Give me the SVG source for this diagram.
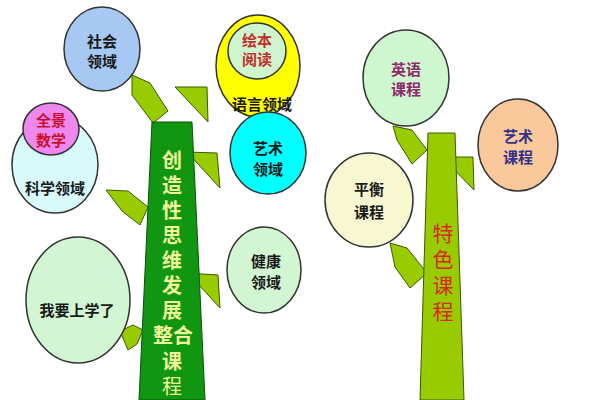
<svg xmlns="http://www.w3.org/2000/svg" width="600" height="400" viewBox="0 0 600 400">
<style>
.bub{stroke:#333;stroke-width:1.5}
.leaf{fill:#99cc00;stroke:#3a5a00;stroke-width:1}
.lbl{font-family:"Noto Sans CJK SC",sans-serif;font-size:15px;font-weight:bold;text-anchor:middle;fill:#1a1a1a}
.trk{font-family:"Noto Sans CJK SC",sans-serif;font-size:20px;font-weight:bold;fill:#eef59a}
.vert{writing-mode:vertical-rl;letter-spacing:5px}
.trk2{font-family:"Noto Sans CJK SC",sans-serif;font-size:21px;fill:#d8281e}
</style>
<rect width="600" height="400" fill="#ffffff"/>
<g id="connectors">
<polygon class="leaf" points="132,75 150,83 168,111 153,123 132,95"/>
<polygon class="leaf" points="175,87 207,87 208,122"/>
<polygon class="leaf" points="187,152 217,153 220,188"/>
<polygon class="leaf" points="106,190 128,191 148,207 140,225 122,211"/>
<polygon class="leaf" points="188,273 218,275 220,308"/>
<polygon class="leaf" points="120,331 133,325 143,330 137,344 128,350"/>
<polygon class="leaf" points="393,126 412,130 427,150 412,164 397,140"/>
<polygon class="leaf" points="442,157 473,157 474,190"/>
<polygon class="leaf" points="390,243 407,248 427,273 410,288 395,267"/>
</g>
<g id="trunk-left">
<polygon points="152,122 192,122 205,400 139,400" fill="#119611" stroke="#0a500a" stroke-width="1"/>
<text class="trk vert" x="172" y="150">创造性思维发展</text>
<text class="trk" x="173" y="343" text-anchor="middle">整合</text>
<text class="trk vert" x="172" y="351">课<tspan font-weight="normal">程</tspan></text>
</g>
<g id="trunk-right">
<polygon points="428,133 455,133 464,400 420,400" fill="#99cc00" stroke="#3a5a00" stroke-width="1"/>
<text class="trk2 vert" x="443" y="223">特色课程</text>
</g>
<g id="shehui">
<ellipse class="bub" cx="102" cy="49" rx="38" ry="42" fill="#a6c8f2"/>
<text class="lbl" x="102" y="47">社会</text>
<text class="lbl" x="102" y="67">领域</text>
</g>
<g id="yuyan">
<ellipse class="bub" cx="258" cy="66" rx="42" ry="51" fill="#ffff00"/>
<text class="lbl" x="262" y="110">语言领域</text>
</g>
<g id="huiben">
<ellipse class="bub" cx="257" cy="51" rx="29" ry="28" fill="#cff5cf"/>
<text class="lbl" x="257" y="46" style="fill:#c0302a">绘本</text>
<text class="lbl" x="257" y="65" style="fill:#c0302a">阅读</text>
</g>
<g id="yishu">
<ellipse class="bub" cx="268" cy="153" rx="38" ry="41" fill="#00ffff"/>
<text class="lbl" x="268" y="154">艺术</text>
<text class="lbl" x="268" y="175">领域</text>
</g>
<g id="kexue">
<ellipse class="bub" cx="55" cy="165" rx="43" ry="48" fill="#d8fafa"/>
<text class="lbl" x="55" y="194">科学领域</text>
</g>
<g id="quanjing">
<ellipse class="bub" cx="51" cy="129" rx="28" ry="26" fill="#ee88ee"/>
<text class="lbl" x="51" y="126" style="fill:#c8102e">全景</text>
<text class="lbl" x="51" y="146" style="fill:#c8102e">数学</text>
</g>
<g id="jiankang">
<ellipse class="bub" cx="264" cy="270" rx="37" ry="43" fill="#d2f5d2"/>
<text class="lbl" x="266" y="267">健康</text>
<text class="lbl" x="266" y="288">领域</text>
</g>
<g id="shangxue">
<ellipse class="bub" cx="78" cy="300" rx="52" ry="63" fill="#d2f5d2"/>
<text class="lbl" x="77" y="316">我要上学了</text>
</g>
<g id="yingyu">
<ellipse class="bub" cx="406" cy="78" rx="43" ry="48" fill="#cff7cf"/>
<text class="lbl" x="406" y="75" style="fill:#8e2a6e">英语</text>
<text class="lbl" x="406" y="95" style="fill:#8e2a6e">课程</text>
</g>
<g id="yishukc">
<ellipse class="bub" cx="518" cy="145" rx="40" ry="46" fill="#f9c89b"/>
<text class="lbl" x="518" y="142" style="fill:#33338a">艺术</text>
<text class="lbl" x="518" y="163" style="fill:#33338a">课程</text>
</g>
<g id="pingheng">
<ellipse class="bub" cx="369" cy="200" rx="44" ry="47" fill="#f7f7d2"/>
<text class="lbl" x="369" y="195">平衡</text>
<text class="lbl" x="369" y="218">课程</text>
</g>
</svg>
